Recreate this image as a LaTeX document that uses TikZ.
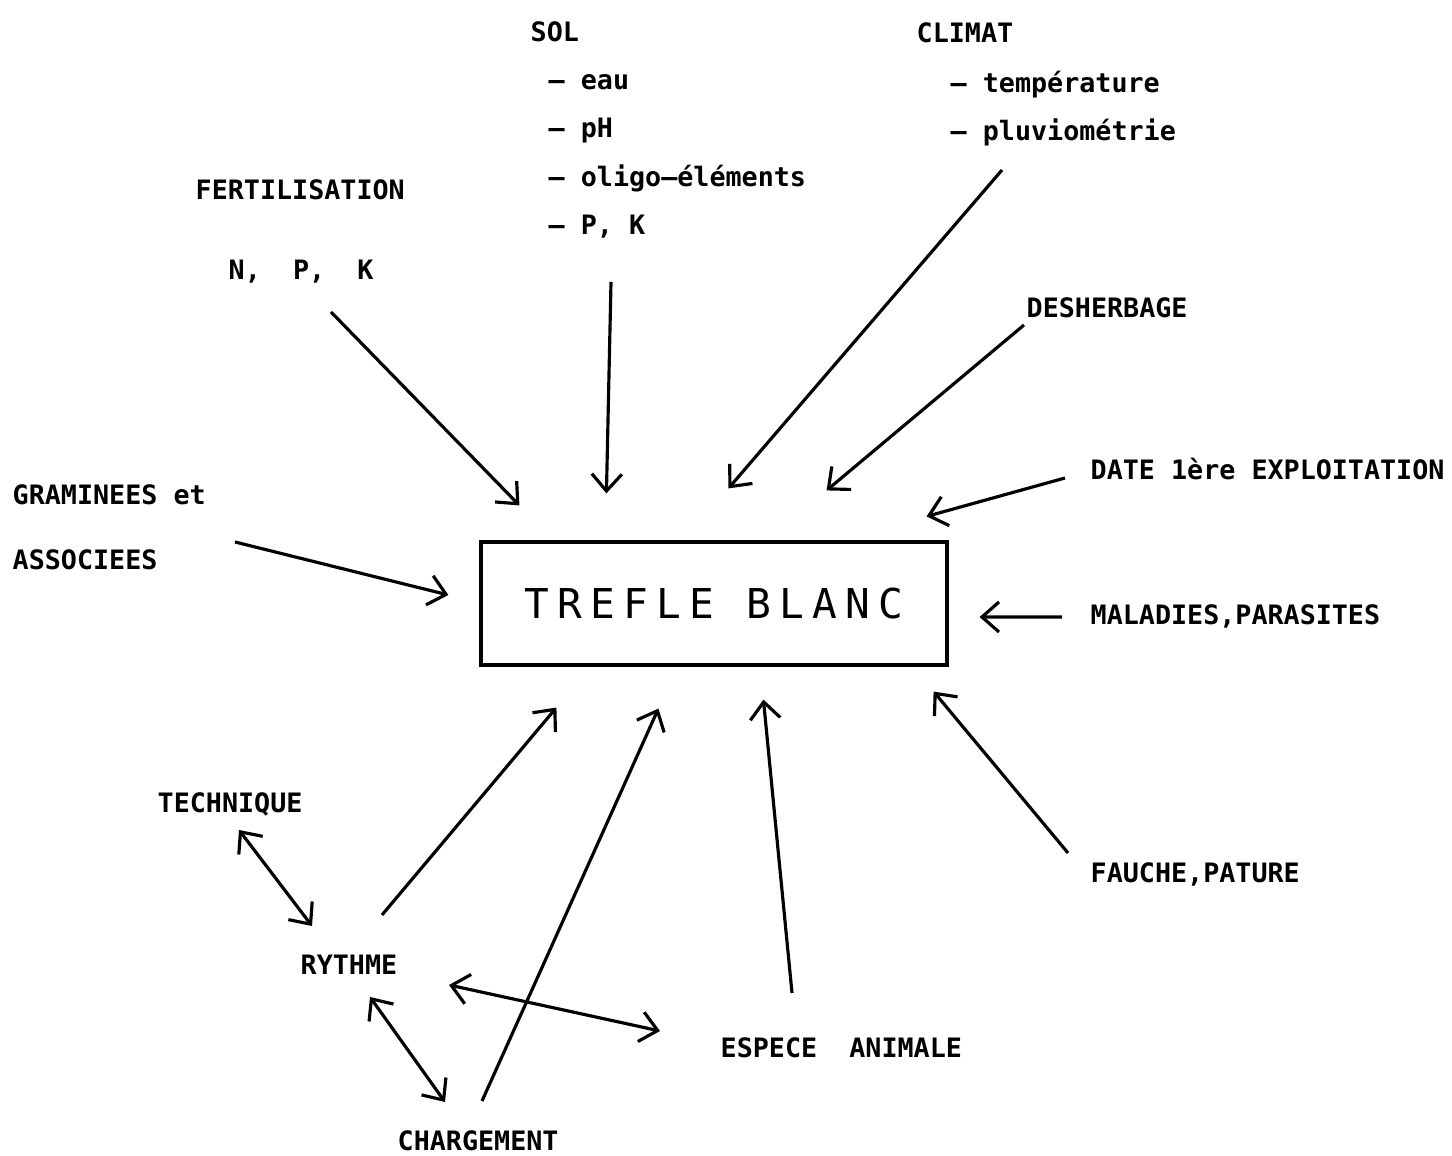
\documentclass[tikz,border=0pt]{standalone}
\usepackage{fontspec}
\setmainfont{DejaVu Sans Mono}
\usetikzlibrary{arrows.meta}

\tikzset{
  lbl/.style={anchor=base west, inner sep=0pt, font=\fontsize{7.6}{9}\selectfont\bfseries},
  fleche/.style={line width=0.9pt, -{Straight Barb[length=1.7mm,width=3mm]}},
  fleches/.style={line width=0.9pt, {Straight Barb[length=1.7mm,width=3mm]}-{Straight Barb[length=1.7mm,width=3mm]}}
}

\begin{document}
\begin{tikzpicture}
  \useasboundingbox (0,0) rectangle (14.52,-11.56);

  % facteurs
  \node[lbl] (sol) at (5.30,-0.42) {SOL};
  \node[lbl] (eau) at (5.48,-0.90) {– eau};
  \node[lbl] (ph) at (5.48,-1.38) {– pH};
  \node[lbl] (oligo) at (5.48,-1.87) {– oligo–éléments};
  \node[lbl] (pk) at (5.48,-2.35) {– P, K};
  \node[lbl] (climat) at (9.16,-0.43) {CLIMAT};
  \node[lbl] (temp) at (9.50,-0.93) {– température};
  \node[lbl] (pluv) at (9.50,-1.41) {– pluviométrie};
  \node[lbl] (fert) at (1.95,-2.00) {FERTILISATION};
  \node[lbl] (npk) at (2.28,-2.80) {N,~~P,~~K};
  \node[lbl] (desh) at (10.26,-3.18) {DESHERBAGE};
  \node[lbl] (date) at (10.90,-4.80) {DATE 1ère EXPLOITATION};
  \node[lbl] (gram) at (0.12,-5.05) {GRAMINEES et};
  \node[lbl] (assoc) at (0.12,-5.70) {ASSOCIEES};
  \node[lbl] (mal) at (10.90,-6.25) {MALADIES,PARASITES};
  \node[lbl] (tech) at (1.57,-8.13) {TECHNIQUE};
  \node[lbl] (fauche) at (10.90,-8.83) {FAUCHE,PATURE};
  \node[lbl] (rythme) at (3.00,-9.75) {RYTHME};
  \node[lbl] (espece) at (7.20,-10.58) {ESPECE~~ANIMALE};
  \node[lbl] (charg) at (3.97,-11.51) {CHARGEMENT};

  % trefle
  \node[draw, line width=0.9pt, minimum width=4.66cm, minimum height=1.23cm, inner sep=0pt,
        font=\fontsize{11.7}{13}\selectfont\addfontfeature{LetterSpace=20}] (tb) at (7.14,-6.035)
        {TREFLE\hspace{0.8em}BLANC};

  \draw[fleche] ([shift={(1.03,-0.32)}]npk.base west) -- ([shift={(0.40,0.35)}]tb.north west);
  \draw[fleche] ([shift={(0.63,-0.47)}]pk.base west) -- ([shift={(1.27,0.47)}]tb.north west);
  \draw[fleche] ([shift={(0.52,-0.29)}]pluv.base west) -- ([shift={(2.49,0.52)}]tb.north west);
  \draw[fleche] ([shift={(-0.02,-0.07)}]desh.base west) -- ([shift={(-1.22,0.50)}]tb.north east);
  \draw[fleche] ([shift={(-0.25,0.02)}]date.base west) -- ([shift={(-0.22,0.24)}]tb.north east);
  \draw[fleche] ([shift={(2.23,0.28)}]assoc.base west) -- ([shift={(-0.31,0.085)}]tb.west);
  \draw[fleche] ([shift={(-0.28,0.08)}]mal.base west) -- ([shift={(0.31,-0.135)}]tb.east);
  \draw[fleche] ([shift={(-0.22,0.30)}]fauche.base west) -- ([shift={(-0.15,-0.25)}]tb.south east);
  \draw[fleche] ([shift={(0.72,0.65)}]espece.base west) -- ([shift={(2.84,-0.33)}]tb.south west);
  \draw[fleche] ([shift={(0.85,0.50)}]charg.base west) -- ([shift={(1.79,-0.42)}]tb.south west);
  \draw[fleche] ([shift={(0.82,0.60)}]rythme.base west) -- ([shift={(0.77,-0.41)}]tb.south west);

  % liens entre facteurs
  \draw[fleches] ([shift={(0.82,-0.17)}]tech.base west) -- ([shift={(0.12,0.49)}]rythme.base west);
  \draw[fleches] ([shift={(1.49,-0.10)}]rythme.base west) -- ([shift={(-0.60,0.27)}]espece.base west);
  \draw[fleches] ([shift={(0.70,-0.22)}]rythme.base west) -- ([shift={(0.48,0.49)}]charg.base west);
\end{tikzpicture}
\end{document}
